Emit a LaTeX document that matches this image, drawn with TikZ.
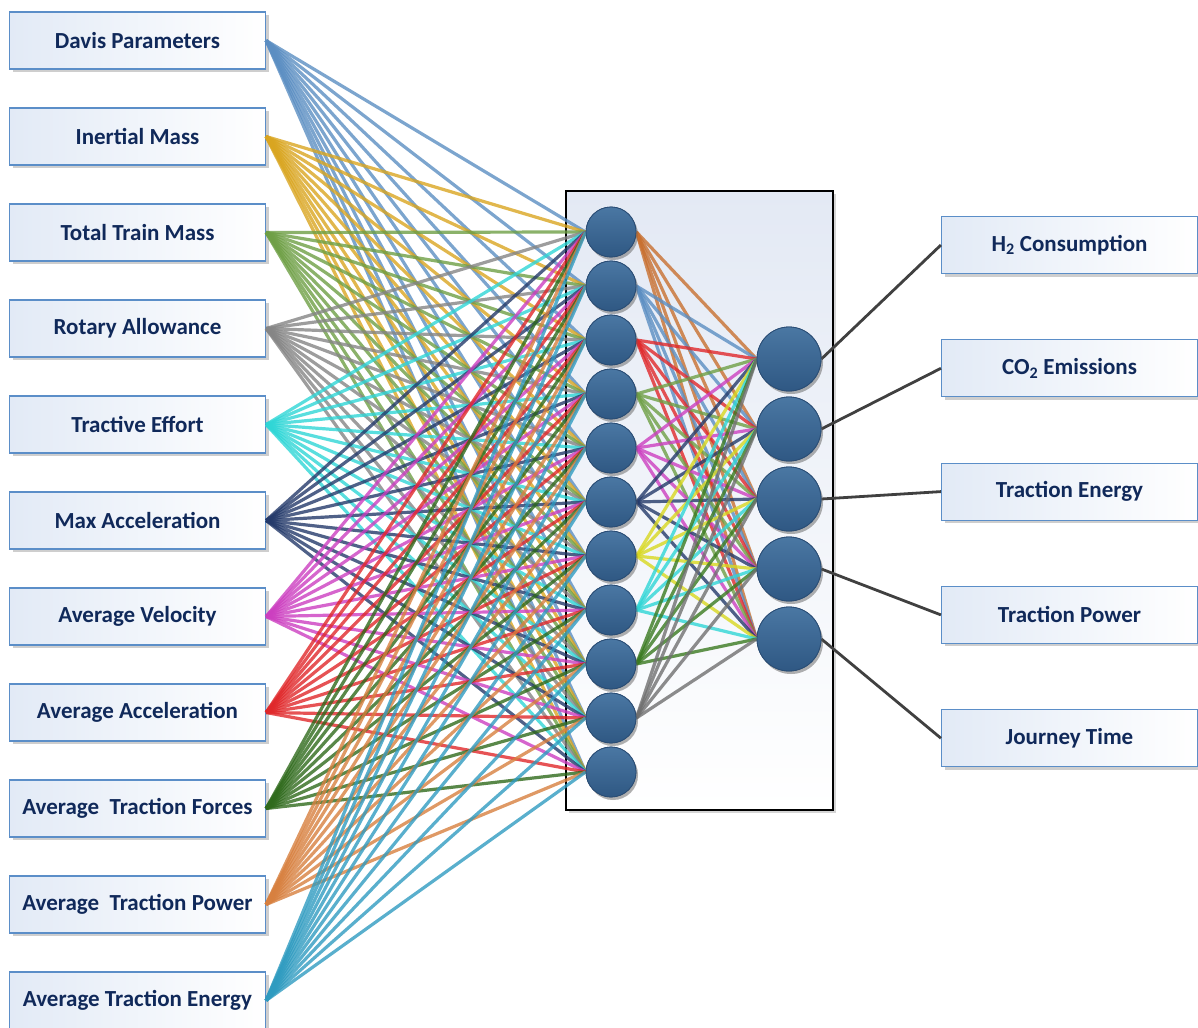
\documentclass[tikz,border=0pt]{standalone}
\usepackage{fontspec}
\setmainfont{Carlito}
\usetikzlibrary{shadows}

% palette
\definecolor{labelnavy}{HTML}{10295A}
\definecolor{boxedge}{HTML}{5B8EC8}
\definecolor{boxtint}{HTML}{E2EAF6}
\definecolor{panelTop}{HTML}{E3E9F4}
\definecolor{ballTop}{HTML}{4A77A3}
\definecolor{ballBot}{HTML}{2F5883}
\definecolor{ballEdge}{HTML}{2A4D75}
\definecolor{wireOut}{HTML}{404040}
% wire colours
\definecolor{cSteel}{HTML}{5B8EC2}
\definecolor{cGold}{HTML}{D9A520}
\definecolor{cOlive}{HTML}{6E9F45}
\definecolor{cGray}{HTML}{858585}
\definecolor{cCyan}{HTML}{2FD6D6}
\definecolor{cNavy}{HTML}{243A6A}
\definecolor{cMagenta}{HTML}{CC3FC0}
\definecolor{cRed}{HTML}{E0282A}
\definecolor{cDkGreen}{HTML}{2F6A1C}
\definecolor{cOrange}{HTML}{D7803F}
\definecolor{cTeal}{HTML}{2F9BC0}
\definecolor{cBrown}{HTML}{C87030}
\definecolor{cYellow}{HTML}{D8D820}
\definecolor{cGreen}{HTML}{3A7A20}
\definecolor{cDkGray}{HTML}{707070}

\newcommand\lblfont{\fontsize{23}{27}\selectfont\bfseries}

\begin{document}
\begin{tikzpicture}[x=1pt,y=-1pt,
  labelbox/.style={draw=boxedge, line width=1.2pt, left color=boxtint, right color=white,
    minimum width=256pt, minimum height=57pt, inner sep=0pt, font=\lblfont, text=labelnavy,
    drop shadow={shadow xshift=3pt, shadow yshift=-3pt, opacity=0.35, fill=black!55}},
  ball/.style={circle, draw=ballEdge, line width=0.8pt, top color=ballTop, bottom color=ballBot,
    inner sep=0pt, drop shadow={shadow xshift=2pt, shadow yshift=-3pt, opacity=0.3, fill=black!60}},
  hball/.style={ball, minimum size=50pt},
  oball/.style={ball, minimum size=64pt},
  wire/.style={draw=#1, line width=3.2pt, draw opacity=0.8},
  outwire/.style={draw=wireOut, line width=2.8pt},
  panel/.style={draw=black, line width=1.4pt, top color=panelTop, bottom color=white,
    minimum width=267pt, minimum height=619pt, inner sep=0pt,
    drop shadow={shadow xshift=3pt, shadow yshift=-3pt, opacity=0.3, fill=black!55}}
]
\useasboundingbox (0,0) rectangle (1198,1027);

% hidden-layer panel
\node[panel] (hbox) at (699.5,500.5) {};

% input boxes
\foreach \i/\t in {1/Davis Parameters, 2/Inertial Mass, 3/Total Train Mass,
    4/Rotary Allowance, 5/Tractive Effort, 6/Max Acceleration, 7/Average Velocity,
    8/Average Acceleration, 9/Average\ \ Traction Forces, 10/Average\ \ Traction Power,
    11/Average Traction Energy}
  \node[labelbox] (in\i) at (137.5,{40.5+96*(\i-1)}) {\t};

% output boxes
\node[labelbox] (out1) at (1069.5,245) {H\textsubscript{2} Consumption};
\node[labelbox] (out2) at (1069.5,368.3) {CO\textsubscript{2} Emissions};
\node[labelbox] (out3) at (1069.5,491.6) {Traction Energy};
\node[labelbox] (out4) at (1069.5,614.9) {Traction Power};
\node[labelbox] (out5) at (1069.5,738.2) {Journey Time};

% neuron positions (drawn again after the wires, so they sit on top)
\foreach \j in {1,...,11}
  \coordinate (hc\j) at (611,{232+54*(\j-1)});
\foreach \k in {1,...,5}
  \coordinate (oc\k) at (789,{359+70*(\k-1)});
\foreach \j in {1,...,11}
  \node[hball] (h\j) at (hc\j) {};
\foreach \k in {1,...,5}
  \node[oball] (o\k) at (oc\k) {};

% input -> hidden wires
\foreach \i/\c in {1/cSteel, 2/cGold, 3/cOlive, 4/cGray, 5/cCyan, 6/cNavy,
    7/cMagenta, 8/cRed, 9/cDkGreen, 10/cOrange, 11/cTeal}
  \foreach \j in {1,...,11}
    \draw[wire=\c] (in\i.east) -- (h\j.west);

% hidden -> output wires
\foreach \j/\c in {1/cBrown, 2/cSteel, 3/cRed, 4/cOlive, 5/cMagenta, 6/cNavy,
    7/cYellow, 8/cCyan, 9/cGreen, 10/cDkGray}
  \foreach \k in {1,...,5}
    \draw[wire=\c] (h\j.east) -- (o\k.west);

% output -> result wires
\foreach \k in {1,...,5}
  \draw[outwire] (o\k.east) -- (out\k.west);

% neurons on top
\foreach \j in {1,...,11}
  \node[hball] at (hc\j) {};
\foreach \k in {1,...,5}
  \node[oball] at (oc\k) {};
\end{tikzpicture}
\end{document}
